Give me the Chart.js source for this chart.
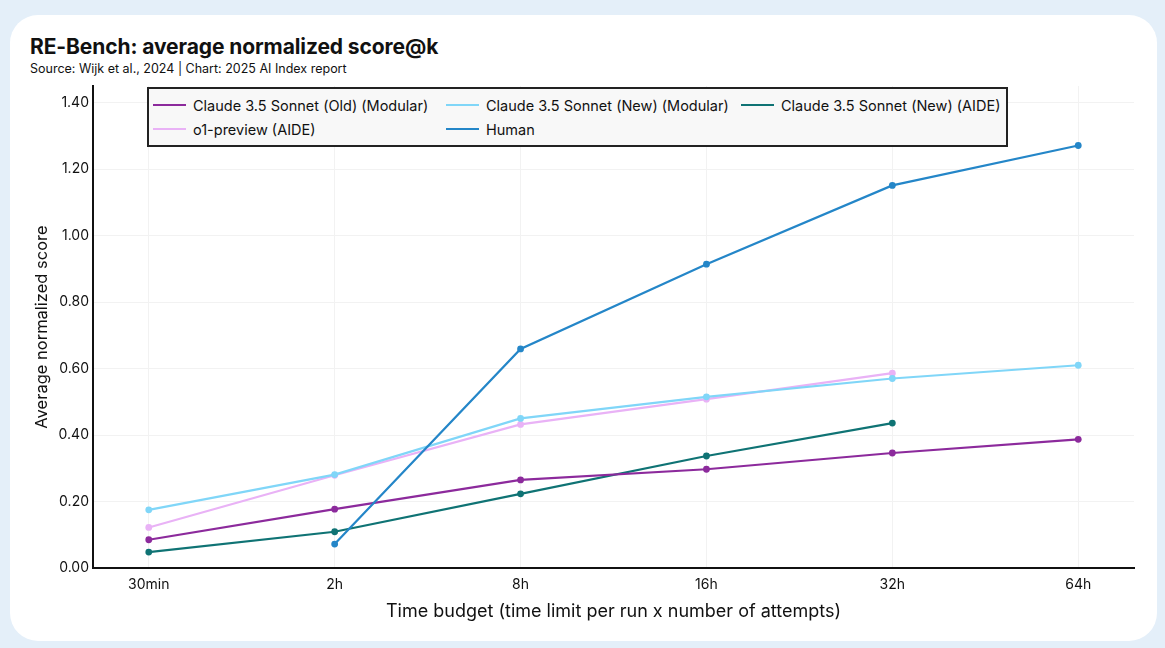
<!DOCTYPE html>
<html>
<head>
<meta charset="utf-8">
<script src="https://cdn.jsdelivr.net/npm/chart.js@4/dist/chart.umd.min.js"></script>
<style>
  html, body { margin:0; padding:0; width:1165px; height:648px; overflow:hidden; background:#e4eff9; font-family: Inter, "Noto Sans", sans-serif; }
  #card { position:absolute; left:10px; top:15px; width:1147px; height:626px; background:#fff; border-radius:28px; }
  #title { position:absolute; left:30px; top:34px; font-size:21px; font-weight:700; color:#111; letter-spacing:-0.1px; }
  #sub { position:absolute; left:30px; top:61px; font-size:12.5px; color:#111; }
  #wrap { position:absolute; left:0; top:0; width:1165px; height:648px; }
  #legend { position:absolute; left:147px; top:87px; width:857px; border:2px solid #222; background:#f8f8f8;
            display:grid; grid-template-columns: 293px 295px 265px; grid-template-rows: 24px 24px; padding-top:4px; box-sizing:content-box; height:52px; }
  .item { display:flex; align-items:center; font-size:14.5px; color:#111; white-space:nowrap; padding-left:4px; }
  .sw { width:33px; height:2.5px; margin-right:7px; flex:none; }
</style>
</head>
<body>
<div id="card"></div>
<div id="title">RE-Bench: average normalized score@k</div>
<div id="sub">Source: Wijk et al., 2024 | Chart: 2025 AI Index report</div>
<div id="wrap"><canvas id="c" width="1165" height="648"></canvas></div>
<div id="legend"></div>
<script>
const categories = ["30min", "2h", "8h", "16h", "32h", "64h"];
const seriesNames = ["Claude 3.5 Sonnet (Old) (Modular)", "Claude 3.5 Sonnet (New) (Modular)", "Claude 3.5 Sonnet (New) (AIDE)", "o1-preview (AIDE)", "Human"];
const oldModular = [0.085, 0.177, 0.265, 0.297, 0.346, 0.387];
const newModular = [0.175, 0.281, 0.450, 0.515, 0.570, 0.610];
const newAide    = [0.048, 0.109, 0.223, 0.337, 0.436, null];
const o1Aide     = [0.122, 0.279, 0.432, 0.508, 0.586, null];
const human      = [null, 0.072, 0.659, 0.914, 1.151, 1.271];
const yTicks = [0, 0.2, 0.4, 0.6, 0.8, 1.0, 1.2, 1.4];
const colors = ["#8c2a9c", "#80d6f8", "#0f7374", "#e9b2f6", "#2486c8"];

function pts(arr) {
  const out = [];
  arr.forEach((v, i) => { if (v !== null) out.push({ x: i, y: v }); });
  return out;
}
const allSeries = [oldModular, newModular, newAide, o1Aide, human];
const drawOrder = [3, 1, 4, 2, 0];
const datasets = allSeries.map((s, i) => ({
  label: seriesNames[i],
  data: pts(s),
  borderColor: colors[i],
  backgroundColor: colors[i],
  pointBackgroundColor: colors[i],
  pointBorderColor: colors[i],
  borderWidth: 2.2,
  pointRadius: 3.4,
  pointBorderWidth: 0,
  tension: 0,
  order: drawOrder[i]
}));

// HTML legend
const lg = document.getElementById('legend');
[0, 1, 2, 3, 4].forEach(i => {
  const d = document.createElement('div');
  d.className = 'item';
  d.innerHTML = '<span class="sw" style="background:' + colors[i] + '"></span><span>' + seriesNames[i] + '</span>';
  lg.appendChild(d);
});

new Chart(document.getElementById('c'), {
  type: 'line',
  data: { datasets },
  options: {
    responsive: false,
    animation: false,
    devicePixelRatio: 1,
    layout: { padding: { left: 0, top: 86, right: 31, bottom: 0 } },
    plugins: { legend: { display: false }, tooltip: { enabled: false } },
    scales: {
      x: {
        type: 'linear', min: -0.3, max: 5.3,
        afterFit: s => { s.height = 80; },
        ticks: { stepSize: 1, includeBounds: false, padding: 8, color: '#111',
                 font: { family: 'Inter', size: 14 },
                 callback: v => categories[v] !== undefined ? categories[v] : '' },
        grid: { color: '#f2f2f2', drawTicks: false, lineWidth: 1 },
        border: { color: '#111', width: 2 },
        title: { display: true, text: 'Time budget (time limit per run x number of attempts)',
                 color: '#111', font: { family: 'Inter', size: 18 }, padding: { bottom: 26 } }
      },
      y: {
        min: 0, max: 1.45,
        afterFit: s => { s.width = 93; },
        afterBuildTicks: s => { s.ticks = yTicks.map(v => ({ value: v })); },
        ticks: { stepSize: 0.2, includeBounds: false, padding: 4, color: '#111',
                 font: { family: 'Inter', size: 14 },
                 callback: v => Number(v).toFixed(2) },
        grid: { color: '#f2f2f2', drawTicks: false, lineWidth: 1 },
        border: { color: '#111', width: 2 },
        title: { display: true, text: 'Average normalized score', color: '#111',
                 font: { family: 'Inter', size: 16.5 }, padding: { top: 32 } }
      }
    }
  }
});
</script>
</body>
</html>
